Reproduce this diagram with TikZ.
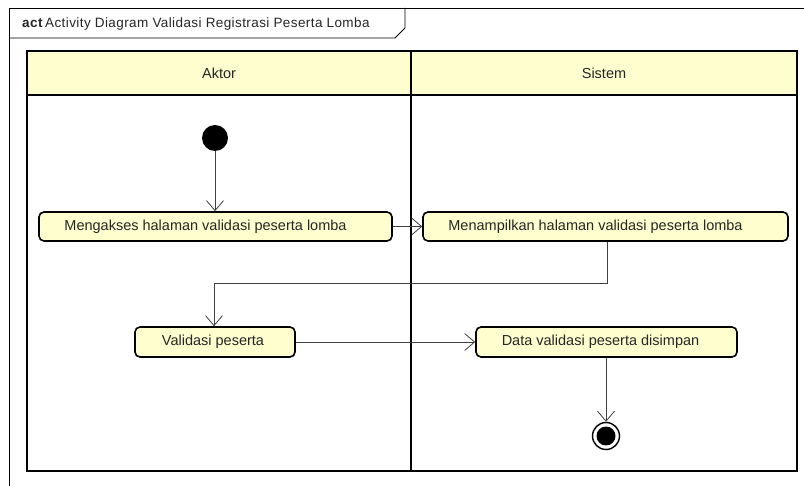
\documentclass[tikz,border=0pt]{standalone}
\usepackage{fontspec}
\setmainfont{Liberation Sans}
\usetikzlibrary{arrows.meta}
\definecolor{actfill}{HTML}{FEFECE}
\definecolor{inktext}{HTML}{262626}
\definecolor{flowline}{HTML}{404040}
\tikzset{
  action/.style={draw=black, line width=1.6pt, fill=actfill, rounded corners=5pt,
    minimum height=29pt, inner sep=0pt, font=\fontsize{14.5}{16}\selectfont, text=inktext},
  lane/.style={draw=black, line width=1.6pt},
  flow/.style={draw=flowline, line width=0.8pt, -{Straight Barb[length=10pt,width=17pt,line width=0.8pt]}},
  startdot/.style={circle, fill=black, minimum size=26pt, inner sep=0pt},
  enddot/.style={circle, draw=black, line width=1.4pt, fill=white, minimum size=27pt, inner sep=0pt,
    path picture={\fill[black] (path picture bounding box.center) circle (9.5pt);}},
}
\begin{document}
\begin{tikzpicture}[x=1pt,y=-1pt]
\useasboundingbox (0,0) rectangle (804,486);
\fill[white] (0,0) rectangle (804,486);

% diagram frame and its name tab
\draw[line width=0.8pt, black] (9,486) -- (9,8) -- (804,8);
\draw[line width=0.8pt, black] (9,38) -- (395,38) -- (405,28) -- (405,8);
\node[anchor=west, inner sep=0pt, font=\fontsize{13.5}{15}\selectfont\addfontfeatures{LetterSpace=3}, text=inktext] (title) at (22,24)
  {\textbf{act}\,Activity Diagram Validasi Registrasi Peserta Lomba};

% swimlanes
\fill[actfill] (27,51) rectangle (797,95);
\draw[lane] (27,51) rectangle (797,471);
\draw[lane] (27,95) -- (797,95);
\draw[lane] (411,51) -- (411,471);
\node[font=\fontsize{14.5}{16}\selectfont, text=inktext] (aktor) at (219,73) {Aktor};
\node[font=\fontsize{14.5}{16}\selectfont, text=inktext] (sistem) at (604,73) {Sistem};

% activity nodes
\node[startdot] (start) at (215,138) {};
\node[action, minimum width=353pt] (akses) at (215.5,226.5) {\hspace*{-20pt}Mengakses halaman validasi peserta lomba};
\node[action, minimum width=365pt] (tampil) at (605.5,226.5) {\hspace*{-20pt}Menampilkan halaman validasi peserta lomba};
\node[action, minimum width=160pt, minimum height=30pt] (validasi) at (215,342) {\hspace*{-4pt}Validasi peserta};
\node[action, minimum width=261pt, minimum height=30pt] (simpan) at (606.5,342) {\hspace*{-12pt}Data validasi peserta disimpan};
\node[enddot] (finish) at (606,436) {};

% control flows
\draw[flow] (start) -- (akses.north -| start);
\draw[flow] (akses) -- (tampil);
\coordinate (bendA) at (607,283);
\coordinate (bendB) at (214,283);
\draw[flow] (tampil.south -| bendA) -- (bendA) -- (bendB) -- (validasi.north -| bendB);
\draw[flow] (validasi) -- (simpan);
\draw[flow] (simpan.south -| finish) -- (finish);
\end{tikzpicture}
\end{document}
